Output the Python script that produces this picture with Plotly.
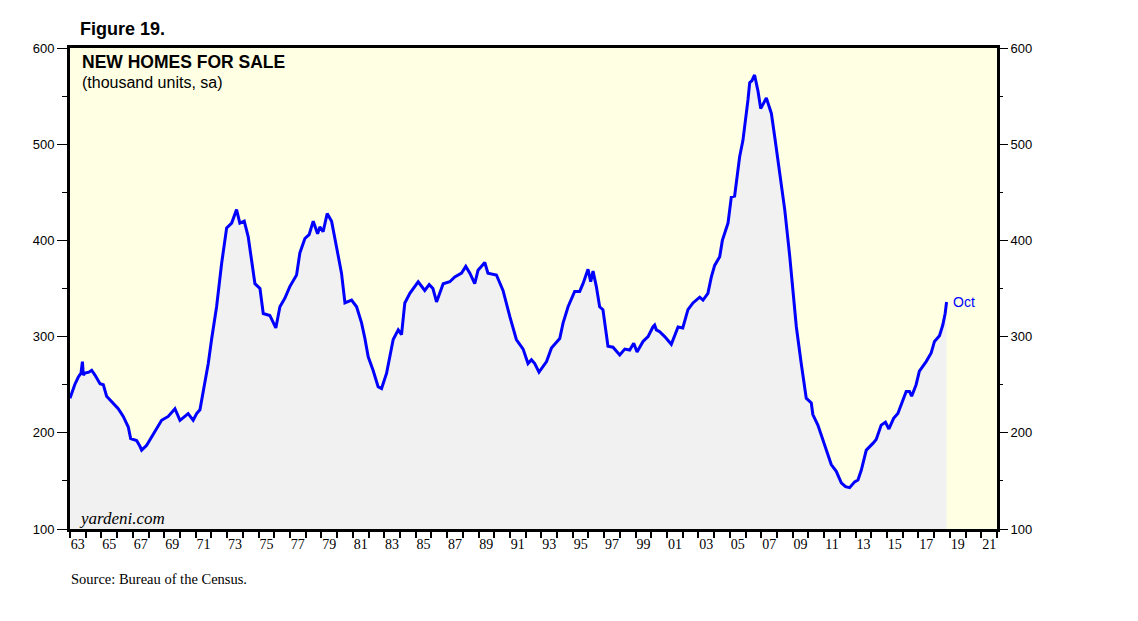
import plotly.graph_objects as go

# Decimal years and new homes for sale (thousand units, sa)
years = [
    1963.00, 1963.30, 1963.53, 1963.70, 1963.79, 1963.85, 1963.95, 1964.20, 1964.38, 1964.59,
    1964.91, 1965.12, 1965.33, 1965.65, 1966.07, 1966.39, 1966.71, 1966.86, 1967.24, 1967.45,
    1967.56, 1967.88, 1968.30, 1968.83, 1969.25, 1969.68, 1970.00, 1970.52, 1970.84, 1971.06,
    1971.27, 1971.48, 1971.80, 1972.01, 1972.33, 1972.65, 1972.97, 1973.29, 1973.60, 1973.81,
    1974.09, 1974.34, 1974.56, 1974.77, 1975.09, 1975.30, 1975.72, 1976.10, 1976.36, 1976.68,
    1976.99, 1977.42, 1977.63, 1977.95, 1978.22, 1978.48, 1978.76, 1978.90, 1979.11, 1979.37,
    1979.65, 1979.96, 1980.10, 1980.28, 1980.50, 1980.92, 1981.24, 1981.34, 1981.56, 1981.77,
    1981.98, 1982.29, 1982.61, 1982.83, 1983.15, 1983.57, 1983.89, 1984.10, 1984.31, 1984.63,
    1985.16, 1985.58, 1985.86, 1986.10, 1986.33, 1986.75, 1987.17, 1987.49, 1987.92, 1988.19,
    1988.45, 1988.76, 1988.97, 1989.40, 1989.60, 1990.14, 1990.56, 1990.99, 1991.41, 1991.84,
    1992.15, 1992.37, 1992.58, 1992.85, 1993.33, 1993.64, 1994.17, 1994.38, 1994.70, 1995.12,
    1995.44, 1995.65, 1995.97, 1996.14, 1996.29, 1996.50, 1996.71, 1996.92, 1997.24, 1997.56,
    1997.99, 1998.31, 1998.62, 1998.88, 1999.09, 1999.47, 1999.79, 2000.10, 2000.21, 2000.32,
    2000.53, 2000.85, 2001.27, 2001.70, 2002.00, 2002.33, 2002.65, 2003.08, 2003.29, 2003.60,
    2003.82, 2004.03, 2004.35, 2004.52, 2004.88, 2005.09, 2005.30, 2005.62, 2005.83, 2006.15,
    2006.26, 2006.40, 2006.57, 2006.79, 2006.96, 2007.32, 2007.64, 2007.85, 2008.06, 2008.27,
    2008.49, 2008.80, 2009.01, 2009.23, 2009.54, 2009.86, 2010.18, 2010.28, 2010.60, 2010.92,
    2011.24, 2011.45, 2011.77, 2012.09, 2012.36, 2012.62, 2012.94, 2013.15, 2013.36, 2013.68,
    2014.10, 2014.31, 2014.63, 2014.90, 2015.12, 2015.42, 2015.69, 2016.00, 2016.22, 2016.43,
    2016.57, 2016.85, 2017.06, 2017.49, 2017.81, 2018.02, 2018.34, 2018.55, 2018.70, 2018.79,
]
homes_for_sale = [
    236, 250, 258, 262, 274, 260, 262, 263, 265, 260,
    251, 250, 238, 232, 225, 217, 206, 194, 192, 186,
    182, 187, 198, 213, 217, 225, 213, 220, 213, 220,
    224, 244, 272, 297, 331, 376, 413, 418, 432, 418,
    420, 404, 380, 355, 350, 324, 322, 309, 331, 340,
    352, 364, 387, 402, 406, 420, 407, 414, 409, 428,
    420, 394, 380, 366, 335, 338, 331, 326, 314, 298,
    279, 265, 248, 246, 262, 297, 307, 302, 335, 345,
    357, 348, 354, 350, 336, 355, 357, 362, 366, 373,
    366, 355, 369, 377, 366, 364, 348, 321, 297, 287,
    272, 276, 272, 263, 274, 288, 298, 314, 331, 347,
    347, 355, 370, 357, 368, 352, 331, 328, 290, 289,
    281, 287, 286, 293, 284, 295, 300, 310, 312, 307,
    305, 300, 292, 310, 309, 328, 335, 341, 338, 345,
    362, 374, 383, 400, 418, 445, 446, 487, 504, 546,
    564, 566, 572, 555, 537, 548, 532, 508, 484, 459,
    432, 385, 352, 310, 272, 236, 231, 219, 208, 193,
    177, 167, 160, 148, 144, 143, 149, 151, 161, 182,
    189, 193, 208, 211, 204, 215, 220, 234, 243, 243,
    238, 250, 264, 274, 283, 295, 301, 312, 324, 336,
]

x_label_years = list(range(1963, 2022, 2))
x_label_text = [f"{y % 100:02d}" for y in x_label_years]
y_ticks = [100, 200, 300, 400, 500, 600]

# page has an 8px body margin: figure origin sits at (8, 8)
OX, OY = 8, 8
PL, PT, PW, PH = 70, 48, 927, 481  # target plot box in window pixels

fig = go.Figure()
fig.add_trace(go.Scatter(
    x=years, y=homes_for_sale, mode="lines",
    line=dict(color="#0000FF", width=3),
    fill="tozeroy", fillcolor="#F1F1F1",
    hoverinfo="x+y", showlegend=False,
))
# invisible trace so the right-hand axis is drawn
fig.add_trace(go.Scatter(x=[years[0]], y=[homes_for_sale[0]], yaxis="y2",
                         mode="markers", marker=dict(opacity=0), showlegend=False,
                         hoverinfo="skip"))

yaxis_common = dict(
    range=[100, 600], tickmode="array", tickvals=y_ticks,
    ticks="outside", ticklen=10, tickwidth=1, tickcolor="black",
    tickfont=dict(family="Liberation Sans", size=13, color="black"),
    showgrid=False, zeroline=False,
    minor=dict(tickmode="array", tickvals=[150, 250, 350, 450, 550],
               ticks="outside", ticklen=5, tickwidth=1, tickcolor="black", showgrid=False),
)

fig.update_layout(
    width=1138 - OX, height=621 - OY,
    margin=dict(l=PL - OX, r=1138 - OX - (PL - OX) - PW, t=PT - OY, b=621 - OY - (PT - OY) - PH),
    paper_bgcolor="white", plot_bgcolor="#FFFFE3",
    xaxis=dict(
        range=[1963, 2022], tickmode="array",
        tickvals=[y + 0.5 for y in x_label_years], ticktext=x_label_text,
        ticks="",
        tickfont=dict(family="Liberation Serif", size=14, color="black"),
        showline=True, linecolor="black", linewidth=3, mirror=True,
        showgrid=False, zeroline=False,
        minor=dict(tickmode="array", tickvals=list(range(1963, 2023)),
                   ticks="outside", ticklen=6, tickwidth=2, tickcolor="black", showgrid=False),
    ),
    yaxis=dict(showline=True, linecolor="black", linewidth=3, mirror=True, **yaxis_common),
    yaxis2=dict(overlaying="y", side="right", showline=False, **yaxis_common),
)

annotations = [
    dict(text="<b>Figure 19.</b>", x=78, y=29, font=dict(family="Liberation Sans", size=18)),
    dict(text="<b>NEW HOMES FOR SALE</b>", x=80, y=62, font=dict(family="Liberation Sans", size=17.5)),
    dict(text="(thousand units, sa)", x=80, y=83, font=dict(family="Liberation Sans", size=16)),
    dict(text="<i>yardeni.com</i>", x=77, y=518, font=dict(family="Liberation Serif", size=17)),
    dict(text="Source: Bureau of the Census.", x=69, y=579, font=dict(family="Liberation Serif", size=14.5)),
]
for a in annotations:
    fig.add_annotation(
        text=a["text"], xref="paper", yref="paper",
        x=(a["x"] - PL) / PW, y=(PT + PH - a["y"]) / PH,
        xanchor="left", yanchor="middle", showarrow=False,
        font=dict(color="black", **a["font"]),
    )

fig.add_annotation(
    text="Oct", x=years[-1], y=homes_for_sale[-1], xref="x", yref="y",
    xanchor="left", yanchor="middle", xshift=4, showarrow=False,
    font=dict(family="Liberation Sans", size=14, color="#0000FF"),
)

fig.write_html("out.html")
